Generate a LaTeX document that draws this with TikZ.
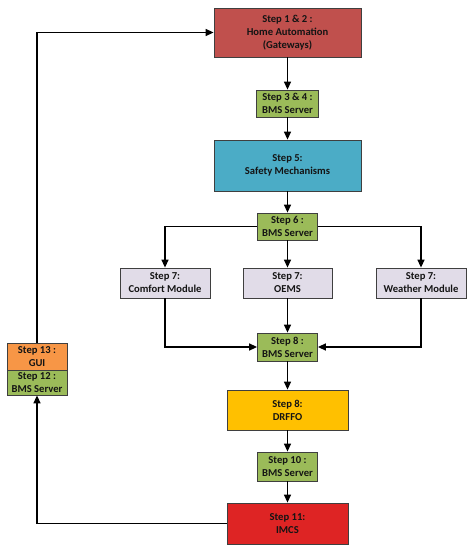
\documentclass[tikz,border=0pt]{standalone}
\usepackage{fontspec}
\setmainfont{Carlito}
\usetikzlibrary{arrows.meta}
\definecolor{cred}{HTML}{C0504D}
\definecolor{cgreen}{HTML}{9BBB59}
\definecolor{cblue}{HTML}{4BACC6}
\definecolor{clav}{HTML}{E1DCE8}
\definecolor{cyel}{HTML}{FFC000}
\definecolor{cred2}{HTML}{DE2424}
\definecolor{corange}{HTML}{F79646}
\definecolor{cborder}{HTML}{3F3F3F}
\definecolor{ctext}{HTML}{141414}
\begin{document}
\begin{tikzpicture}[x=1pt,y=-1pt,
  box/.style={draw=cborder,line width=0.8pt,align=center,inner sep=0pt,
    font=\bfseries\fontsize{10.6}{13}\selectfont,text=ctext},
  arr/.style={line width=1.4pt,-{Triangle[length=8pt,width=7pt]}}]
\useasboundingbox (0,0) rectangle (469,550);
\node[box,fill=cred,minimum width=147pt,minimum height=49pt] (n1) at (287.5,32.5) {Step 1 \& 2 :\\Home Automation\\(Gateways)};
\node[box,fill=cgreen,minimum width=62pt,minimum height=27pt] (n2) at (287.5,103.5) {Step 3 \& 4 :\\BMS Server};
\node[box,fill=cblue,minimum width=147pt,minimum height=51pt] (n3) at (287.5,165.5) {Step 5:\\Safety Mechanisms};
\node[box,fill=cgreen,minimum width=60pt,minimum height=27pt] (n4) at (287.5,226.5) {Step 6 :\\BMS Server};
\node[box,fill=clav,minimum width=90pt,minimum height=30pt] (c1) at (165,283) {Step 7:\\Comfort Module};
\node[box,fill=clav,minimum width=89pt,minimum height=30pt] (c2) at (287.5,283) {Step 7:\\OEMS};
\node[box,fill=clav,minimum width=90pt,minimum height=30pt] (c3) at (421,283) {Step 7:\\Weather Module};
\node[box,fill=cgreen,minimum width=60pt,minimum height=28pt] (n8) at (287.5,347) {Step 8 :\\BMS Server};
\node[box,fill=cyel,minimum width=121pt,minimum height=40pt] (n9) at (287.5,410) {Step 8:\\DRFFO};
\node[box,fill=cgreen,minimum width=60pt,minimum height=29pt] (n10) at (287.5,466.5) {Step 10 :\\BMS Server};
\node[box,fill=cred2,minimum width=121pt,minimum height=41pt] (n11) at (287.5,523.5) {Step 11:\\IMCS};
\node[box,fill=corange,minimum width=60pt,minimum height=27pt] (gui) at (37,356.5) {Step 13 :\\GUI};
\node[box,fill=cgreen,minimum width=60pt,minimum height=25pt] (n12) at (37,382.5) {Step 12 :\\BMS Server};
\draw[arr] (n1) -- (n2);
\draw[arr] (n2) -- (n3);
\draw[arr] (n3) -- (n4);
\draw[arr] (n4) -- (c2);
\draw[arr] (n4.west) -| (c1.north);
\draw[arr] (n4.east) -| (c3.north);
\draw[arr] (c2) -- (n8);
\draw[arr] (c1.south) |- (n8.west);
\draw[arr] (c3.south) |- (n8.east);
\draw[arr] (n8) -- (n9);
\draw[arr] (n9) -- (n10);
\draw[arr] (n10) -- (n11);
\draw[arr] (n11.west) -| (n12.south);
\draw[arr] (gui.north) |- (n1.west);
\end{tikzpicture}
\end{document}
